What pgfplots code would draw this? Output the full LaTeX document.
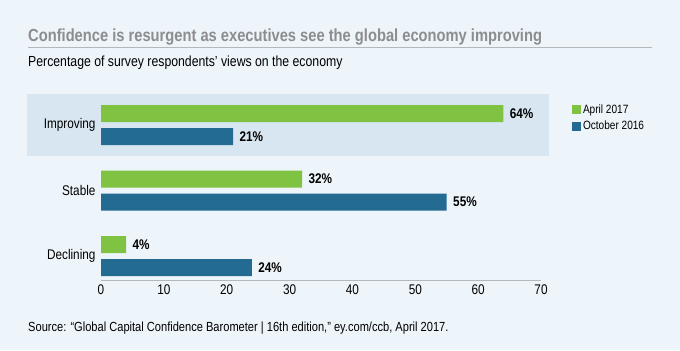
\documentclass[border=0pt]{standalone}
\usepackage{pgfplots}
\pgfplotsset{compat=1.18}
\usepackage{fontspec}
\setmainfont{Liberation Sans}[FakeStretch=0.84]
\definecolor{bg}{HTML}{EDF4FA}
\definecolor{band}{HTML}{D7E6F0}
\definecolor{eygreen}{HTML}{80C242}
\definecolor{eyblue}{HTML}{236B91}
\definecolor{titlegray}{HTML}{8C8D8F}
\definecolor{axisgray}{HTML}{B4B8BC}
\begin{document}
\begin{tikzpicture}[x=1bp,y=1bp]
\fill[bg] (0,0) rectangle (680,350);
\path[use as bounding box] (0,0) rectangle (680,350);
\fill[band] (27,194) rectangle (549,256);
\node[anchor=base west,inner sep=0,text=titlegray,font=\fontsize{17.5bp}{20bp}\selectfont\bfseries] at (28,309) {Confidence is resurgent as executives see the global economy improving};
\draw[axisgray,line width=0.8bp] (28,303) -- (652,303);
\node[anchor=base west,inner sep=0,font=\fontsize{14.6bp}{17bp}\selectfont] at (28,284) {Percentage of survey respondents’ views on the economy};
\node[anchor=base west,inner sep=0,font=\fontsize{13.2bp}{15bp}\selectfont] at (28,19) {Source: “Global Capital Confidence Barometer | 16th edition,” ey.com/ccb, April 2017.};
\begin{axis}[
  at={(101bp,70bp)}, anchor=south west,
  scale only axis, width=440bp, height=187.7bp,
  xmin=0, xmax=70, ymin=0.634, ymax=3.5,
  xbar, bar width=17bp,
  axis x line*=bottom, axis y line*=left,
  x axis line style={axisgray, line width=0.8bp, -},
  y axis line style={draw=none},
  xtick={0,10,...,70}, major tick length=0pt,
  ytick={1,2,3}, yticklabels={Declining,Stable,Improving},
  /pgf/number format/assume math mode=true,
  ticklabel style={font=\fontsize{14bp}{16bp}\selectfont},
  xticklabel style={yshift=-1bp},
  yticklabel style={xshift=-2bp},
  clip=false,
  nodes near coords={\pgfmathprintnumber{\pgfplotspointmeta}\%},
  nodes near coords style={font=\fontsize{14bp}{16bp}\selectfont\bfseries, anchor=west, xshift=3bp, text=black},
  point meta=explicit,
  legend style={at={(1.07,0.945)}, anchor=north west, draw=none, fill=none,
    font=\fontsize{12bp}{14bp}\selectfont, row sep=2bp, inner sep=0pt,
    /tikz/every even column/.append style={column sep=4bp}},
  legend cell align=left,
  legend image code/.code={\fill[#1] (0bp,-4.5bp) rectangle (9bp,4.5bp);},
]
\addplot[fill=eygreen, draw=none, bar shift=11.5bp] coordinates {(4,1) [4] (32,2) [32] (64,3) [64]};
\addplot[fill=eyblue, draw=none, bar shift=-11.5bp] coordinates {(24,1) [24] (55,2) [55] (21,3) [21]};
\legend{April 2017, October 2016}
\end{axis}
\end{tikzpicture}
\end{document}
